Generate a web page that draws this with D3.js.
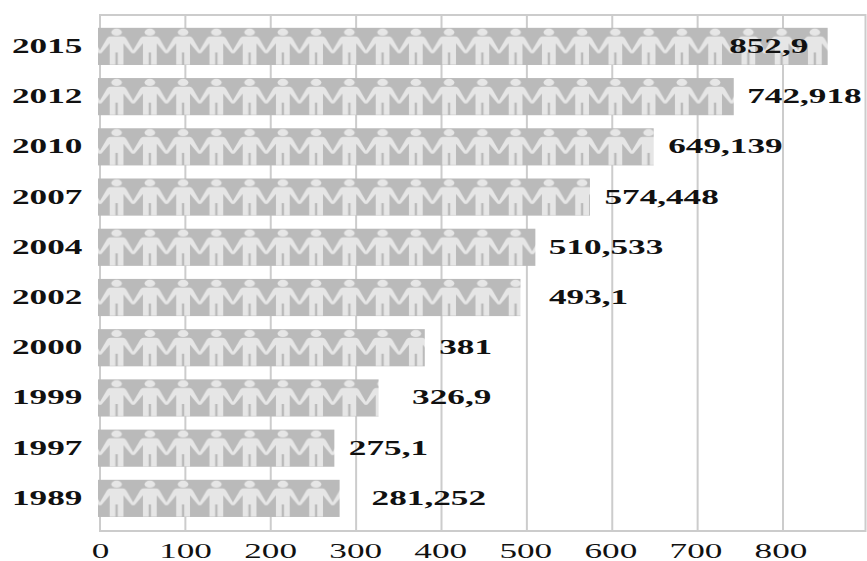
<!DOCTYPE html>
<html>
<head>
<meta charset="utf-8">
<script src="https://cdn.jsdelivr.net/npm/d3@7/dist/d3.min.js"></script>
<style>
html,body{margin:0;padding:0;background:#fff;}
svg{display:block;}
text{font-family:"Liberation Serif",serif;font-weight:bold;fill:#111;}
</style>
</head>
<body>
<div id="chart"></div>
<script>
// Population by census year, in millions
const years = ["2015","2012","2010","2007","2004","2002","2000","1999","1997","1989"];
const population = [852.9,742.918,649.139,574.448,510.533,493.1,381,326.9,275.1,281.252];
const xTicks = [0,100,200,300,400,500,600,700,800];
// Horizontal shift of each value label from the end of its bar
const labelShift = [-99,13,14,14,13,28,14,33,14,31.5];

const width = 867, height = 561;
const frame = {left:100, right:865.5, top:15, bottom:531};
const x = d3.scaleLinear().domain([0,800]).range([100,783]);
// Tick labels sit on a slightly tighter spacing than the gridlines
const xLabel = d3.scaleLinear().domain([0,800]).range([100.5,781]);
const y = d3.scaleBand().domain(years).range([21.3,523.5]).paddingInner(0.26).paddingOuter(0.13);

const svg = d3.select("#chart").append("svg").attr("width",width).attr("height",height);

// Repeating figure that fills each bar: the arms meet at the tile edges
const tileW = 33.25, stepY = y.step();
const pattern = svg.append("defs").append("pattern")
  .attr("id","people").attr("patternUnits","userSpaceOnUse")
  .attr("x",x(0)).attr("y",y(years[0]))
  .attr("width",tileW).attr("height",stepY);
pattern.append("rect").attr("width",tileW).attr("height",stepY).attr("fill","#bababa");
const fig = pattern.append("g").attr("fill","#e6e6e6");
fig.append("ellipse").attr("cx",16.6).attr("cy",4.4).attr("rx",5.3).attr("ry",3.6);
fig.append("path").attr("d",
  "M10.5,8.6 L22.7,8.6 C25,8.8 26,10 27,11.8 L33.6,23.2 L33.6,25.8 L31.6,25.2 L23.5,15.5 L23.5,37 L17.8,37 L17.8,24.5 L15.4,24.5 L15.4,37 L9.7,37 L9.7,15.5 L1.6,25.2 L-0.4,25.8 L-0.4,23.2 L6.2,11.8 C7.2,10 8.2,8.8 10.5,8.6 Z");

// Frame and vertical gridlines
const gridColor = "#cccccc";
svg.append("rect")
  .attr("x",frame.left).attr("y",frame.top)
  .attr("width",frame.right-frame.left).attr("height",frame.bottom-frame.top)
  .attr("fill","none").attr("stroke",gridColor).attr("stroke-width",2);
svg.append("g").selectAll("line").data(xTicks.slice(1)).join("line")
  .attr("x1",d=>x(d)).attr("x2",d=>x(d))
  .attr("y1",frame.top).attr("y2",frame.bottom)
  .attr("stroke",gridColor).attr("stroke-width",2);

// Bars
const rows = years.map((year,i)=>({year,value:population[i],shift:labelShift[i]}));
svg.append("g").selectAll("rect").data(rows).join("rect")
  .attr("x",x(0)-2).attr("y",d=>y(d.year))
  .attr("width",d=>x(d.value)-x(0)+1.5).attr("height",y.bandwidth())
  .attr("fill","url(#people)");

// Wide serif lettering used for all labels
const stretch = 1.6;
function wideText(sel, px, py, anchor, size){
  sel.attr("transform",`translate(${px},${py}) scale(${stretch},1)`)
     .attr("text-anchor",anchor).attr("font-size",size);
}

svg.append("g").selectAll("text").data(rows).join("text")
  .text(d=>d.year)
  .each(function(d){ wideText(d3.select(this),12,y(d.year)+y.bandwidth()/2+6.5,"start",22); });

svg.append("g").selectAll("text").data(rows).join("text")
  .text(d=>String(d.value).replace(".",","))
  .each(function(d){ wideText(d3.select(this),x(d.value)+d.shift,y(d.year)+y.bandwidth()/2+6.5,"start",22); });

svg.append("g").selectAll("text").data(xTicks).join("text")
  .text(d=>d)
  .style("font-weight","normal")
  .each(function(d){ wideText(d3.select(this),xLabel(d),558,"middle",22); });
</script>
</body>
</html>
